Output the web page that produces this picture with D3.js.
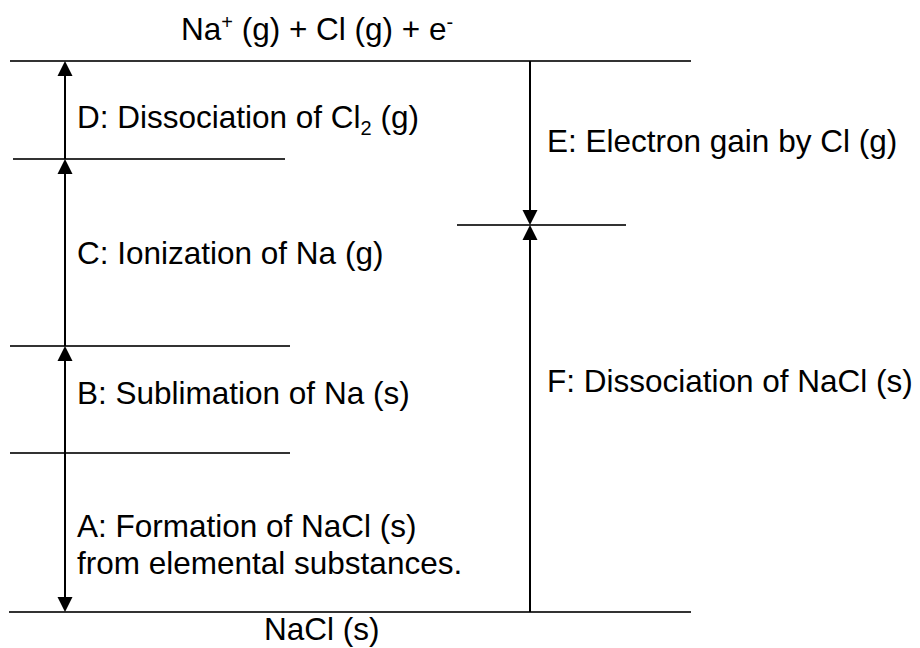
<!DOCTYPE html>
<html>
<head>
<meta charset="utf-8">
<script src="https://cdn.jsdelivr.net/npm/d3@7"></script>
<style>
  body { margin: 0; background: #fff; }
  svg { display: block; }
  text { font-family: "Liberation Sans", Arial, sans-serif; font-size: 31.5px; fill: #000; }
</style>
</head>
<body>
<svg width="920" height="648"></svg>
<script>
// energy levels, relative units (schematic, not to scale)
const levelEnergy = [0, 159, 266, 453, 551, 387];
const levelLabels = ["NaCl (s)", "", "", "", "Na^+ (g) + Cl (g) + e^-", ""];

// steps of the cycle : from level -> to level
const stepLabels = [
    "A: Formation of NaCl (s)\nfrom elemental substances.",
    "B: Sublimation of Na (s)",
    "C: Ionization of Na (g)",
    "D: Dissociation of Cl_2 (g)",
    "E: Electron gain by Cl (g)",
    "F: Dissociation of NaCl (s)"
];
const stepFrom = [1, 1, 2, 3, 4, 0];
const stepTo   = [0, 2, 3, 4, 5, 5];
const stepSide = ["left", "left", "left", "left", "right", "right"];

// layout
const levelSpan = [[9, 691], [10, 290], [10, 290], [13, 285], [10, 691], [457, 626]];
const levelLabelPos = [[264, 28], null, null, null, [181, -21], null];
const sideX = { left: 65, right: 530 };
const labelX = { left: 77, right: 547 };
const labelOffset = [4, 4, 11, 18, 9, -27];
const lineGap = 37;
const headW = 15, headH = 15;

const svg = d3.select("svg");

const y = d3.scaleLinear()
    .domain([0, 551])
    .range([612, 61]);

// write a label, "^x" = superscript, "_x" = subscript
const addRich = (sel, str) => {
    const parts = str.split(/(\^.|_.)/).filter(s => s !== "");
    let back = 0;
    parts.forEach(p => {
        if (p[0] === "^" || p[0] === "_") {
            const dy = p[0] === "^" ? -11 : 7;
            sel.append("tspan").attr("dy", dy).attr("font-size", "20px").text(p.slice(1));
            back = -dy;
        } else {
            sel.append("tspan").attr("dy", back).text(p);
            back = 0;
        }
    });
};

// level lines
svg.selectAll("line.level")
    .data(levelEnergy)
    .enter()
    .append("line")
    .attr("class", "level")
    .attr("x1", (d, i) => levelSpan[i][0])
    .attr("x2", (d, i) => levelSpan[i][1])
    .attr("y1", d => y(d))
    .attr("y2", d => y(d))
    .attr("stroke", "#333")
    .attr("stroke-width", 1.8);

// level labels
levelLabels.forEach((lab, i) => {
    if (!lab) return;
    const t = svg.append("text")
        .attr("x", levelLabelPos[i][0])
        .attr("y", y(levelEnergy[i]) + levelLabelPos[i][1]);
    addRich(t, lab);
});

// arrows
const steps = stepLabels.map((lab, i) => ({
    label: lab,
    y0: y(levelEnergy[stepFrom[i]]),
    y1: y(levelEnergy[stepTo[i]]),
    x: sideX[stepSide[i]],
    tx: labelX[stepSide[i]],
    off: labelOffset[i]
}));

const g = svg.selectAll("g.step")
    .data(steps)
    .enter()
    .append("g")
    .attr("class", "step");

g.append("line")
    .attr("x1", d => d.x)
    .attr("x2", d => d.x)
    .attr("y1", d => d.y0)
    .attr("y2", d => d.y1 + (d.y1 < d.y0 ? 5 : -5))
    .attr("stroke", "#000")
    .attr("stroke-width", 2);

g.append("path")
    .attr("d", d => {
        const dir = d.y1 < d.y0 ? 1 : -1;
        return `M${d.x},${d.y1} L${d.x - headW / 2},${d.y1 + dir * headH} L${d.x + headW / 2},${d.y1 + dir * headH} Z`;
    })
    .attr("fill", "#000");

g.each(function (d) {
    const lines = d.label.split("\n");
    const mid = (d.y0 + d.y1) / 2;
    lines.forEach((ln, k) => {
        const t = d3.select(this).append("text")
            .attr("x", d.tx)
            .attr("y", mid + d.off + k * lineGap);
        addRich(t, ln);
    });
});
</script>
</body>
</html>
